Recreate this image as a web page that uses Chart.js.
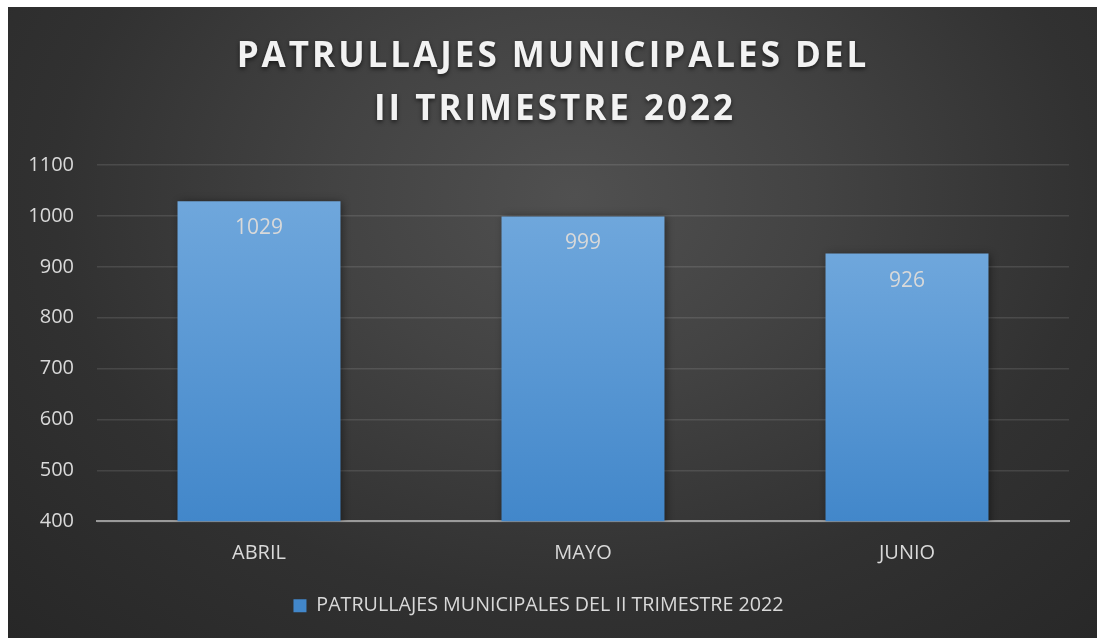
<!DOCTYPE html>
<html>
<head>
<meta charset="utf-8">
<script src="https://cdn.jsdelivr.net/npm/chart.js@4.4.0/dist/chart.umd.min.js"></script>
<style>
  html, body { margin: 0; padding: 0; background: #fff; }
  #panel {
    position: absolute; left: 8px; top: 7px; width: 1089px; height: 631px;
    background: radial-gradient(ellipse farthest-corner at 52% 30%, #505050 0%, #434343 30%, #313131 65%, #272727 100%);
  }
</style>
</head>
<body>
<div id="panel"><canvas id="myChart"></canvas></div>
<script>
const months = ['ABRIL', 'MAYO', 'JUNIO'];
const patrols = [1029, 999, 926];
const titleLines = ['PATRULLAJES MUNICIPALES DEL', 'II TRIMESTRE 2022'];
const seriesName = 'PATRULLAJES MUNICIPALES DEL II TRIMESTRE 2022';

const textGray = '#d9d9d9';
const font = 'Open Sans';

// blue bars, lighter at the top of each bar
function barFill(c) {
    if (c.type !== 'data') return '#5b9bd5';
    const chart = c.chart;
    const area = chart.chartArea;
    if (!area) return '#5b9bd5';
    const top = chart.scales.y.getPixelForValue(patrols[c.dataIndex]);
    const g = chart.ctx.createLinearGradient(0, top, 0, area.bottom);
    g.addColorStop(0, '#6fa7dc');
    g.addColorStop(1, '#4287ca');
    return g;
}

const titlePlugin = {
    id: 'bigTitle',
    afterDraw(chart) {
        const ctx = chart.ctx;
        ctx.save();
        ctx.font = 'bold 35px "' + font + '"';
        ctx.letterSpacing = '3px';
        ctx.fillStyle = '#f2f2f2';
        ctx.textAlign = 'center';
        ctx.textBaseline = 'alphabetic';
        ctx.shadowColor = 'rgba(0,0,0,0.6)';
        ctx.shadowBlur = 4;
        ctx.shadowOffsetY = 2;
        ctx.fillText(titleLines[0], 545, 60);
        ctx.fillText(titleLines[1], 547, 113);
        ctx.restore();
    }
};

const barShadow = {
    id: 'barShadow',
    beforeDatasetsDraw(chart) {
        const ctx = chart.ctx;
        ctx.save();
        ctx.shadowColor = 'rgba(0,0,0,0.45)';
        ctx.shadowBlur = 8;
        ctx.shadowOffsetX = 2;
        ctx.shadowOffsetY = 1;
    },
    afterDatasetsDraw(chart) {
        chart.ctx.restore();
    }
};

const valueLabels = {
    id: 'valueLabels',
    afterDatasetsDraw(chart) {
        const ctx = chart.ctx;
        ctx.save();
        ctx.font = '21px "' + font + '"';
        ctx.fillStyle = textGray;
        ctx.textAlign = 'center';
        ctx.textBaseline = 'middle';
        chart.getDatasetMeta(0).data.forEach((bar, i) => {
            ctx.fillText(String(patrols[i]), bar.x, bar.y + 27);
        });
        ctx.restore();
    }
};

const ctx = document.getElementById('myChart').getContext('2d');
const myChart = new Chart(ctx, {
    type: 'bar',
    data: {
        labels: months,
        datasets: [{
            label: seriesName,
            data: patrols,
            backgroundColor: barFill,
            borderWidth: 0,
            barPercentage: 0.503,
            categoryPercentage: 1
        }]
    },
    options: {
        responsive: true,
        maintainAspectRatio: false,
        animation: false,
        layout: { padding: { top: 158, right: 28, left: 0, bottom: 12.5 } },
        plugins: {
            title: { display: false },
            tooltip: { enabled: false },
            legend: {
                position: 'bottom',
                labels: {
                    color: textGray,
                    font: { family: font, size: 19.7 },
                    boxWidth: 13,
                    boxHeight: 13,
                    padding: 10
                }
            }
        },
        scales: {
            x: {
                grid: { display: false },
                border: { color: '#9a9a9a', width: 2 },
                ticks: { color: textGray, font: { family: font, size: 20 }, padding: 11.5 },
                afterFit(scale) { scale.height = 64.5; }
            },
            y: {
                min: 400,
                max: 1100,
                ticks: {
                    stepSize: 100,
                    color: textGray,
                    font: { family: font, size: 20 },
                    padding: 23,
                    callback: (v) => String(v)
                },
                grid: { color: 'rgba(255,255,255,0.11)', lineWidth: 1.5, drawTicks: false },
                border: { display: false },
                afterFit(scale) { scale.width = 89; }
            }
        }
    },
    plugins: [barShadow, valueLabels, titlePlugin]
});
</script>
</body>
</html>
